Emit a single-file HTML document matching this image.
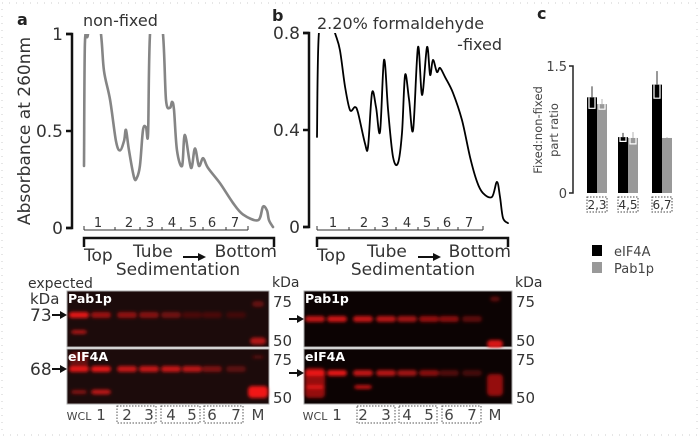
<!DOCTYPE html>
<html><head><meta charset="utf-8">
<style>
html,body{margin:0;padding:0;background:#fff;}
svg{display:block;font-family:"DejaVu Sans","Liberation Sans",sans-serif;}
</style></head>
<body>
<svg id="fig" width="700" height="440" viewBox="0 0 700 440">
<defs>
 <filter id="blur" x="-50%" y="-100%" width="200%" height="300%"><feGaussianBlur stdDeviation="1.6"/></filter>
 <clipPath id="clipA"><rect x="70" y="34" width="210" height="200"/></clipPath>
 <clipPath id="clipB"><rect x="310" y="33" width="210" height="200"/></clipPath>
</defs>
<rect x="2" y="3" width="695" height="432" fill="none" stroke="#ccc" stroke-dasharray="1,6"/>
<g id="root"></g>
</svg>
<script>
// ---- Data ----
const posA = [0,0.5,2.1,5.3,9.0,10.6,13.8,16.9,19.0,21.2,22.2,23.8,26.5,28.0,29.6,31.2,32.8,33.9,34.9,38.1,41.8,43.4,45.5,46.6,47.6,49.2,51.9,53.4,56.6,58.7,60.8,63.0,65.6,72.0,78.8,84.1,92.1,94.7,96.8,97.9,100];
const absA = [0.32,0.95,1.0,1.3,1.0,0.81,0.66,0.45,0.40,0.45,0.505,0.40,0.26,0.26,0.32,0.505,0.52,0.49,1.0,1.3,1.0,0.66,0.62,0.65,0.61,0.40,0.32,0.48,0.31,0.41,0.32,0.36,0.31,0.23,0.13,0.07,0.04,0.11,0.09,0.04,0.005];
const posB = [0,1.0,5.2,9.4,12.0,14.7,17.3,19.9,21.5,25.1,26.7,28.8,30.9,33.0,35.1,37.2,39.8,42.4,44.5,46.1,48.2,50.3,52.9,55.0,57.6,59.2,60.7,62.8,64.4,67.0,71.2,75.9,80.1,83.8,86.9,91.6,94.2,95.8,97.4,100];
const absB = [0.371,0.80,0.9,0.80,0.73,0.577,0.482,0.495,0.47,0.346,0.33,0.553,0.495,0.392,0.689,0.482,0.289,0.264,0.388,0.627,0.524,0.40,0.742,0.544,0.742,0.627,0.689,0.639,0.656,0.619,0.553,0.441,0.289,0.186,0.14,0.124,0.186,0.124,0.037,0.016];
const ticksA = ["0","0.5","1"];
const tickValsA = [0,0.5,1];
const ticksB = ["0","0.4","0.8"];
const tickValsB = [0,0.4,0.8];
const barCats = ["2,3","4,5","6,7"];
const eif4a = [1.13,0.66,1.28];
const eif4aErr = [0.13,0.05,0.16];
const pab1p = [1.05,0.65,0.65];
const pab1pErr = [0.06,0.07,0.01];
const laneLabels = ["WCL","1","2","3","4","5","6","7","M"];
const pabA = [0.95,0.6,0.55,0.5,0.4,0.22,0.22,0.18];
const eifA = [0.9,0.95,0.8,0.8,0.8,0.75,0.45,0.3];
const pabB = [0.8,0.85,0.8,0.75,0.65,0.6,0.55,0.35];
const eifB = [0.95,0.95,0.8,0.75,0.65,0.55,0.3,0.25];

const NS="http://www.w3.org/2000/svg";
const root=document.getElementById('root');
function mk(tag,attrs,parent,text){const e=document.createElementNS(NS,tag);for(const k in attrs)e.setAttribute(k,attrs[k]);if(text!==undefined)e.textContent=text;(parent||root).appendChild(e);return e;}
function smooth(pts){
 let d='M'+pts[0][0].toFixed(1)+','+pts[0][1].toFixed(1);
 for(let i=0;i<pts.length-1;i++){
  const p0=pts[Math.max(0,i-1)],p1=pts[i],p2=pts[i+1],p3=pts[Math.min(pts.length-1,i+2)];
  const c1=[p1[0]+(p2[0]-p0[0])/6,p1[1]+(p2[1]-p0[1])/6];
  const c2=[p2[0]-(p3[0]-p1[0])/6,p2[1]-(p3[1]-p1[1])/6];
  d+=`C${c1[0].toFixed(1)},${c1[1].toFixed(1)} ${c2[0].toFixed(1)},${c2[1].toFixed(1)} ${p2[0].toFixed(1)},${p2[1].toFixed(1)}`;
 }
 return d;
}

// ---- Profile panels ----
function profile(cfg){
 const g=mk('g',{});
 
 
 const xs=p=>cfg.x0+(cfg.x1-cfg.x0)*p/100;
 const ys=v=>cfg.y0-(cfg.y0-cfg.yTop)*v/cfg.vmax;
 const ax=mk('path',{d:`M${cfg.ax-6},${cfg.yTop} H${cfg.ax} V${cfg.y0} H${cfg.ax-6}`,fill:'none',stroke:'#111','stroke-width':2.5},g);
 
 
 cfg.tickVals.forEach((v,i)=>{
  const y=ys(v);
  mk('line',{x1:cfg.ax-6,x2:cfg.ax,y1:y,y2:y,stroke:'#111','stroke-width':2.5},g);
  const t=mk('text',{x:cfg.ax-9,y:y+6,'text-anchor':'end','font-size':17,fill:'#333'},g,cfg.ticks[i]);
  
  
 });
 const pts=cfg.pos.map((p,i)=>[xs(p),ys(cfg.abs[i])]);
 const line=mk('path',{d:smooth(pts),fill:'none',stroke:cfg.color,'stroke-width':cfg.sw,'stroke-linejoin':'round','stroke-linecap':'round','clip-path':`url(#${cfg.clip})`},g);
 
 
 const r=mk('g',{},g);
 
 
 mk('line',{x1:cfg.x0,x2:cfg.rEnd,y1:230,y2:230,stroke:'#333','stroke-width':1},r);
 mk('line',{x1:cfg.x0,x2:cfg.x0,y1:226,y2:230,stroke:'#333'},r);
 mk('line',{x1:cfg.rEnd,x2:cfg.rEnd,y1:226,y2:230,stroke:'#333'},r);
 cfg.fracTicks.forEach(x=>mk('line',{x1:x,x2:x,y1:227,y2:230,stroke:'#333'},r));
 cfg.fracLab.forEach((x,i)=>mk('text',{x:x,y:227,'text-anchor':'middle','font-size':13,fill:'#333'},r,String(i+1)));
 mk('path',{d:`M${cfg.x0},247 V238 H${cfg.bEnd} V247`,fill:'none',stroke:'#111','stroke-width':2.5},g);
 const tp=mk('text',{x:cfg.x0,y:261,'font-size':17,fill:'#333'},g,'Top');
 
 
 mk('text',{x:cfg.tubeX,y:257,'font-size':17,fill:'#333'},g,'Tube');
 mk('line',{x1:cfg.arrX,x2:cfg.arrX+16,y1:257,y2:257,stroke:'#111','stroke-width':2},g);
 mk('path',{d:`M${cfg.arrX+15},253 L${cfg.arrX+23},257 L${cfg.arrX+15},261 Z`,fill:'#111'},g);
 const bt=mk('text',{x:cfg.bEnd+3,y:257,'text-anchor':'end','font-size':17,fill:'#333'},g,'Bottom');
 
 
 const sd=mk('text',{x:cfg.sedX,y:275,'text-anchor':'middle','font-size':17,fill:'#333'},g,'Sedimentation');
 
 
}
profile({name:'panel-a-profile',ax:72,x0:84,x1:273,y0:228,yTop:34,vmax:1,pos:posA,abs:absA,ticks:ticksA,tickVals:tickValsA,color:'#858585',sw:2.6,clip:'clipA',rEnd:248,bEnd:274,fracTicks:[115,140,162,181,203,226],fracLab:[98,129,150,172,193,212,235],tubeX:133,arrX:183,sedX:178});
profile({name:'panel-b-profile',ax:309,x0:317,x1:508,y0:227,yTop:33,vmax:0.8,pos:posB,abs:absB,ticks:ticksB,tickVals:tickValsB,color:'#000',sw:1.8,clip:'clipB',rEnd:483,bEnd:508,fracTicks:[349,375,396,418,438,458],fracLab:[333,364,385,407,427,447,469],tubeX:367,arrX:418,sedX:413});

let t;
t=mk('text',{x:17,y:25,'font-size':16,'font-weight':'bold',fill:'#222'},root,'a');


t=mk('text',{x:83,y:26,'font-size':16,fill:'#333'},root,'non-fixed');


t=mk('text',{x:272,y:21,'font-size':16,'font-weight':'bold',fill:'#222'},root,'b');


t=mk('text',{x:317,y:29,'font-size':16,fill:'#333'},root,'2.20% formaldehyde');


mk('text',{x:502,y:50,'text-anchor':'end','font-size':16,fill:'#333'},root,'-fixed');
t=mk('text',{x:537,y:19,'font-size':16,'font-weight':'bold',fill:'#222'},root,'c');


t=mk('text',{x:0,y:0,transform:'translate(30,131) rotate(-90)','text-anchor':'middle','font-size':17,fill:'#333'},root,'Absorbance at 260nm');



// ---- Bar chart c ----
(function(){
 const g=mk('g',{});
 
 
 const y0=193,yT=66,vmax=1.5;
 const ys=v=>y0-(y0-yT)*v/vmax;
 mk('path',{d:`M569,${yT} H573 V${y0} H569`,fill:'none',stroke:'#222','stroke-width':1.5},g);
 [[0,'0'],[1.5,'1.5']].forEach(([v,l])=>mk('text',{x:567,y:ys(v)+5,'text-anchor':'end','font-size':13,fill:'#444'},g,l));
 t=mk('text',{transform:'translate(542,130) rotate(-90)','text-anchor':'middle','font-size':11.5,fill:'#444'},g,'Fixed:non-fixed');
 
 
 mk('text',{transform:'translate(558,130) rotate(-90)','text-anchor':'middle','font-size':11.5,fill:'#444'},g,'part ratio');
 const gx=[587,618,652], bw=10;
 barCats.forEach((c,i)=>{
  const series=[[eif4a[i],eif4aErr[i],'#000','#777','bar-eif4a-'+c],[pab1p[i],pab1pErr[i],'#999','#ccc','bar-pab1p-'+c]];
  series.forEach((s,j)=>{
   const x=gx[i]+j*bw, top=ys(s[0]), e=(y0-yT)*s[1]/vmax;
   const r=mk('rect',{x:x,y:top,width:bw,height:y0-top,fill:s[2]},g);
   
   
   mk('line',{x1:x+bw/2,x2:x+bw/2,y1:top-e,y2:top,stroke:s[3],'stroke-width':1.5},g);
   if(e>1) mk('path',{d:`M${x+2},${top} V${top+e} H${x+bw-2} V${top}`,fill:'none',stroke:'#fff','stroke-width':1.2},g);
  });
  const bx=mk('rect',{x:gx[i],y:197,width:20,height:15,fill:'none',stroke:'#444','stroke-dasharray':'1.5,1.5'},g);
  
  
  const lt=mk('text',{x:gx[i]+10,y:209,'text-anchor':'middle','font-size':12,fill:'#333'},g,c);
  
  
 });
 const lg=mk('g',{},g);
 
 
 mk('rect',{x:592,y:245,width:10,height:11,fill:'#000'},lg);
 mk('text',{x:614,y:256,'font-size':13,fill:'#444'},lg,'eIF4A');
 mk('rect',{x:592,y:262,width:10,height:11,fill:'#999'},lg);
 mk('text',{x:614,y:273,'font-size':13,fill:'#444'},lg,'Pab1p');
})();

// ---- Blots ----
function blot(cfg){
 const g=mk('g',{});
 
 
 const w=cfg.x1-cfg.x0;
 [[291,347,'Pab1p',cfg.pab,cfg.pabY],[349,404,'eIF4A',cfg.eif,cfg.eifY]].forEach(([ya,yb,lab,vals,by])=>{
  const r=mk('rect',{x:cfg.x0,y:ya,width:w,height:yb-ya,fill:cfg.bg,stroke:'#aaa','stroke-width':1},g);
  
  
  const bg=mk('g',{filter:'url(#blur)'},g);
  vals.forEach((v,i)=>{
   const cx=cfg.lanes[i];
   const b=mk('rect',{x:cx-10,y:by-3,width:20,height:6,rx:3,fill:'#f01818','fill-opacity':v},bg);
   
   
  });
  cfg.extra.filter(e=>e[0]===lab).forEach(e=>mk('rect',{x:cfg.lanes[e[1]]-e[4]/2,y:e[2]-e[5]/2,width:e[4],height:e[5],rx:4,fill:'#f01818','fill-opacity':e[3]},bg));
  mk('text',{x:cfg.x0+1,y:ya+12,'font-size':12.5,'font-weight':'bold',fill:'#fff'},g,lab);
  mk('text',{x:cfg.x1+4,y:ya+16,'font-size':15,fill:'#333'},g,'75');
  mk('text',{x:cfg.x1+4,y:yb-1,'font-size':15,fill:'#333'},g,'50');
  const ay=by;
  mk('line',{x1:cfg.arrX,x2:cfg.x0-6,y1:ay,y2:ay,stroke:'#111','stroke-width':2},g);
  mk('path',{d:`M${cfg.x0-7},${ay-4} L${cfg.x0},${ay} L${cfg.x0-7},${ay+4} Z`,fill:'#111'},g);
 });
 mk('text',{x:cfg.x1+3,y:287,'font-size':14,fill:'#333'},g,'kDa');
 laneLabels.forEach((l,i)=>{
  const tt=mk('text',{x:cfg.lanes[i],y:420,'text-anchor':'middle','font-size':l==='WCL'?11:15,fill:'#444'},g,l);
  
  
 });
 cfg.boxes.forEach(b=>{
  const bx=mk('rect',{x:b[0],y:406,width:b[1]-b[0],height:17,fill:'none',stroke:'#555','stroke-dasharray':'1.5,1.5'},g);
  
  
 });
}
blot({name:'blot-non-fixed',x0:67,x1:269,bg:'#1c0b0b',lanes:[79,101,127,149,171,192,212,236,258],pab:pabA,eif:eifA,pabY:315,eifY:369,arrX:52,boxes:[[117,156],[161,200],[204,243]],
 extra:[['Pab1p',0,332,0.7,16,4],['Pab1p',8,304,0.35,12,6],['Pab1p',8,341,0.7,16,7],['eIF4A',0,392,0.5,16,4],['eIF4A',1,392,0.75,20,5],['eIF4A',8,357,0.3,12,3],['eIF4A',8,392,1,20,12],['eIF4A',0,362,0.35,18,20]]});
blot({name:'blot-fixed',x0:304,x1:512,bg:'#0c0303',lanes:[315,337,363,386,407,429,449,472,495],pab:pabB,eif:eifB,pabY:319,eifY:373,arrX:289,boxes:[[357,395],[399,437],[442,481]],
 extra:[['Pab1p',8,299,0.35,10,5],['Pab1p',8,344,0.9,16,8],['eIF4A',0,383,0.6,20,30],['eIF4A',0,387,0.8,18,4],['eIF4A',2,387,0.8,18,4],['eIF4A',8,385,0.6,16,22]]});

mk('text',{x:28,y:288,'font-size':14,fill:'#333'},root,'expected');
mk('text',{x:30,y:304,'font-size':15,fill:'#333'},root,'kDa');
t=mk('text',{x:30,y:321,'font-size':17,fill:'#333'},root,'73');


t=mk('text',{x:30,y:375,'font-size':17,fill:'#333'},root,'68');


</script>
</body></html>
